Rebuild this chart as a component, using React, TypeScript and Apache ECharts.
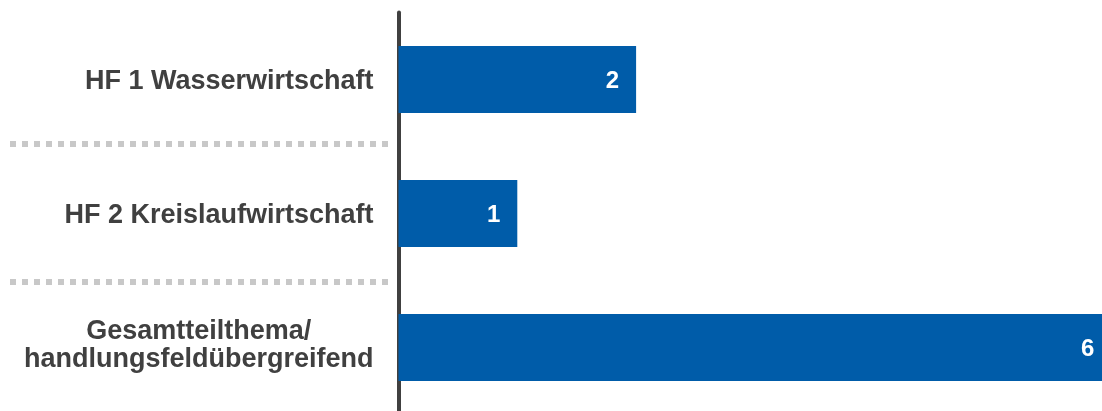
import React, { useEffect, useRef } from "react";
import * as echarts from "echarts";

const categories = [
  "HF 1 Wasserwirtschaft",
  "HF 2 Kreislaufwirtschaft",
  "Gesamtteilthema/\nhandlungsfeldübergreifend",
];
const values = [2, 1, 6];
const separators = [1, 2];

export default function App() {
  const ref = useRef<HTMLDivElement>(null);
  useEffect(() => {
    if (!ref.current) return;
    const chart = echarts.init(ref.current, null, { renderer: "svg" });
    const font = "'Liberation Sans', Arial, sans-serif";
    const axisData = categories.map((c) =>
      c.includes("\n") ? { value: c, textStyle: { padding: [0, 0, 7, 0] } } : c
    );
    chart.setOption({
      animation: false,
      grid: [
        { left: 398.5, width: 712.8, top: 12.5, height: 402, outerBoundsMode: "none", containLabel: false },
        { left: 10, width: 378, top: 5.5, height: 276, outerBoundsMode: "none", containLabel: false },
      ],
      xAxis: [
        { type: "value", min: 0, max: 6, show: false, gridIndex: 0 },
        { type: "value", min: 0, max: 1, show: false, gridIndex: 1 },
      ],
      yAxis: [
        {
          type: "category",
          data: axisData,
          inverse: true,
          gridIndex: 0,
          axisLine: { show: true, lineStyle: { color: "#404040", width: 4 } },
          axisTick: { show: false },
          splitLine: { show: false },
          axisLabel: {
            margin: 25,
            align: "right",
            formatter: (v: string) =>
              v
                .split("\n")
                .map((l) => `{c|${l}}`)
                .join("\n"),
            rich: {
              c: {
                align: "center",
                color: "#404040",
                fontFamily: font,
                fontWeight: "bold",
                fontSize: 27,
                lineHeight: 27.5,
              },
            },
          },
        },
        { type: "value", min: 0, max: 2, inverse: true, show: false, gridIndex: 1 },
      ],
      series: [
        {
          type: "bar",
          data: values,
          barCategoryGap: "50%",
          itemStyle: { color: "#005ca9" },
          label: {
            show: true,
            position: "insideRight",
            distance: 17,
            color: "#ffffff",
            fontFamily: font,
            fontWeight: "bold",
            fontSize: 24,
          },
        },
        {
          type: "line",
          xAxisIndex: 1,
          yAxisIndex: 1,
          data: [],
          silent: true,
          markLine: {
            silent: true,
            symbol: ["none", "none"],
            label: { show: false },
            emphasis: { disabled: true },
            lineStyle: { type: [6, 6], color: "#c8c8c8", width: 6 },
            data: separators.map((s) => ({ yAxis: s })),
          },
        },
      ],
    });
    return () => chart.dispose();
  }, []);
  return (
    <div
      ref={ref}
      style={{ position: "fixed", left: 0, top: 0, width: 1102, height: 411 }}
    />
  );
}
